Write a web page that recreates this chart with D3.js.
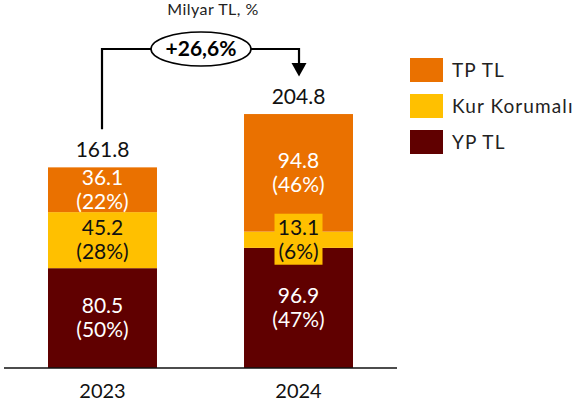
<!DOCTYPE html>
<html>
<head>
<meta charset="utf-8">
<script src="https://cdn.jsdelivr.net/npm/d3@7"></script>
<style>
  html, body { margin: 0; padding: 0; background: #fff; }
  svg { display: block; font-family: Lato, "Open Sans", sans-serif; }
</style>
</head>
<body>
<svg id="chart" width="580" height="404"></svg>
<script>
// Deposit breakdown, billion TL
const years = ["2023", "2024"];
const seriesNames = ["YP TL", "Kur Korumalı", "TP TL"];
const ypTL = [80.5, 96.9];
const kurKorumali = [45.2, 13.1];
const tpTL = [36.1, 94.8];
const shares = {
  "YP TL": ["50%", "47%"],
  "Kur Korumalı": ["28%", "6%"],
  "TP TL": ["22%", "46%"]
};
const totals = [161.8, 204.8];
const growthLabel = "+26,6%";
const unitLabel = "Milyar TL, %";
const legendOrder = ["TP TL", "Kur Korumalı", "YP TL"];

const colors = { "YP TL": "#600000", "Kur Korumalı": "#FFC000", "TP TL": "#EA7100" };
const textColors = { "YP TL": "#fff", "Kur Korumalı": "#111", "TP TL": "#fff" };

const rows = years.map((y, i) => ({
  year: y,
  "YP TL": ypTL[i],
  "Kur Korumalı": kurKorumali[i],
  "TP TL": tpTL[i]
}));
const stacked = d3.stack().keys(seriesNames)(rows);

const svg = d3.select("#chart");
const baseY = 368;

const x = d3.scaleBand().domain(years).range([4, 397]).paddingInner(0.444).paddingOuter(0.2245);
const y = d3.scaleLinear().domain([0, 100]).range([baseY, baseY - 124]);

// stacked bars
const layers = svg.append("g").selectAll("g").data(stacked).join("g")
  .attr("fill", d => colors[d.key]);
layers.selectAll("rect").data(d => d).join("rect")
  .attr("x", d => x(d.data.year))
  .attr("width", x.bandwidth())
  .attr("y", d => y(d[1]))
  .attr("height", d => y(d[0]) - y(d[1]));

// axis baseline
svg.append("line").attr("x1", 4).attr("x2", 397).attr("y1", baseY).attr("y2", baseY)
  .attr("stroke", "#111").attr("stroke-width", 1.5);

// year labels
svg.append("g").selectAll("text").data(years).join("text")
  .attr("x", d => x(d) + x.bandwidth() / 2)
  .attr("y", 398)
  .attr("text-anchor", "middle")
  .attr("font-size", 20)
  .attr("fill", "#111")
  .text(d => d);

// segment labels: value and share, two lines centred in the segment
stacked.forEach(layer => {
  layer.forEach((d, i) => {
    const cx = x(d.data.year) + x.bandwidth() / 2;
    const cy = (y(d[0]) + y(d[1])) / 2;
    const val = d.data[layer.key];
    if (layer.key === "Kur Korumalı" && y(d[0]) - y(d[1]) < 40) {
      svg.append("rect")
        .attr("x", cx - 24).attr("y", cy - 26)
        .attr("width", 48).attr("height", 51)
        .attr("fill", colors[layer.key]);
    }
    const t = svg.append("text")
      .attr("text-anchor", "middle")
      .attr("font-size", 21)
      .attr("fill", textColors[layer.key]);
    t.append("tspan").attr("x", cx).attr("y", cy - 5).text(d3.format(".1f")(val));
    t.append("tspan").attr("x", cx).attr("y", cy + 19).text("(" + shares[layer.key][i] + ")");
  });
});

// totals above bars
svg.append("g").selectAll("text").data(years).join("text")
  .attr("x", d => x(d) + x.bandwidth() / 2)
  .attr("y", (d, i) => y(totals[i]) - 10)
  .attr("text-anchor", "middle")
  .attr("font-size", 21)
  .attr("fill", "#111")
  .text((d, i) => d3.format(".1f")(totals[i]));

// unit caption
svg.append("text")
  .attr("x", 213).attr("y", 15)
  .attr("text-anchor", "middle")
  .attr("font-size", 16)
  .attr("letter-spacing", 0.5)
  .attr("fill", "#222")
  .text(unitLabel);

// growth bracket with arrow
const lx = x(years[0]) + 54, rx = x(years[1]) + 55, by = 49;
svg.append("path")
  .attr("d", `M${lx},${y(totals[0]) - 38} V${by} H${rx} V${y(totals[1]) - 51}`)
  .attr("fill", "none").attr("stroke", "#000").attr("stroke-width", 2.2);
svg.append("path")
  .attr("d", `M${rx - 7.5},${y(totals[1]) - 51} L${rx + 7.5},${y(totals[1]) - 51} L${rx},${y(totals[1]) - 37.5} Z`)
  .attr("fill", "#000");
svg.append("ellipse")
  .attr("cx", 201).attr("cy", by).attr("rx", 50).attr("ry", 17)
  .attr("fill", "#fff").attr("stroke", "#000").attr("stroke-width", 1.6);
svg.append("text")
  .attr("x", 201).attr("y", by + 7)
  .attr("text-anchor", "middle")
  .attr("font-size", 21).attr("font-weight", "bold")
  .attr("fill", "#000")
  .text(growthLabel);

// legend
const leg = svg.append("g").selectAll("g").data(legendOrder).join("g")
  .attr("transform", (d, i) => `translate(410,${58 + i * 36})`);
leg.append("rect").attr("width", 33).attr("height", 24).attr("fill", d => colors[d]);
leg.append("text").attr("x", 42).attr("y", 19)
  .attr("font-size", 19).attr("letter-spacing", 1.1).attr("fill", "#222").text(d => d);
</script>
</body>
</html>
